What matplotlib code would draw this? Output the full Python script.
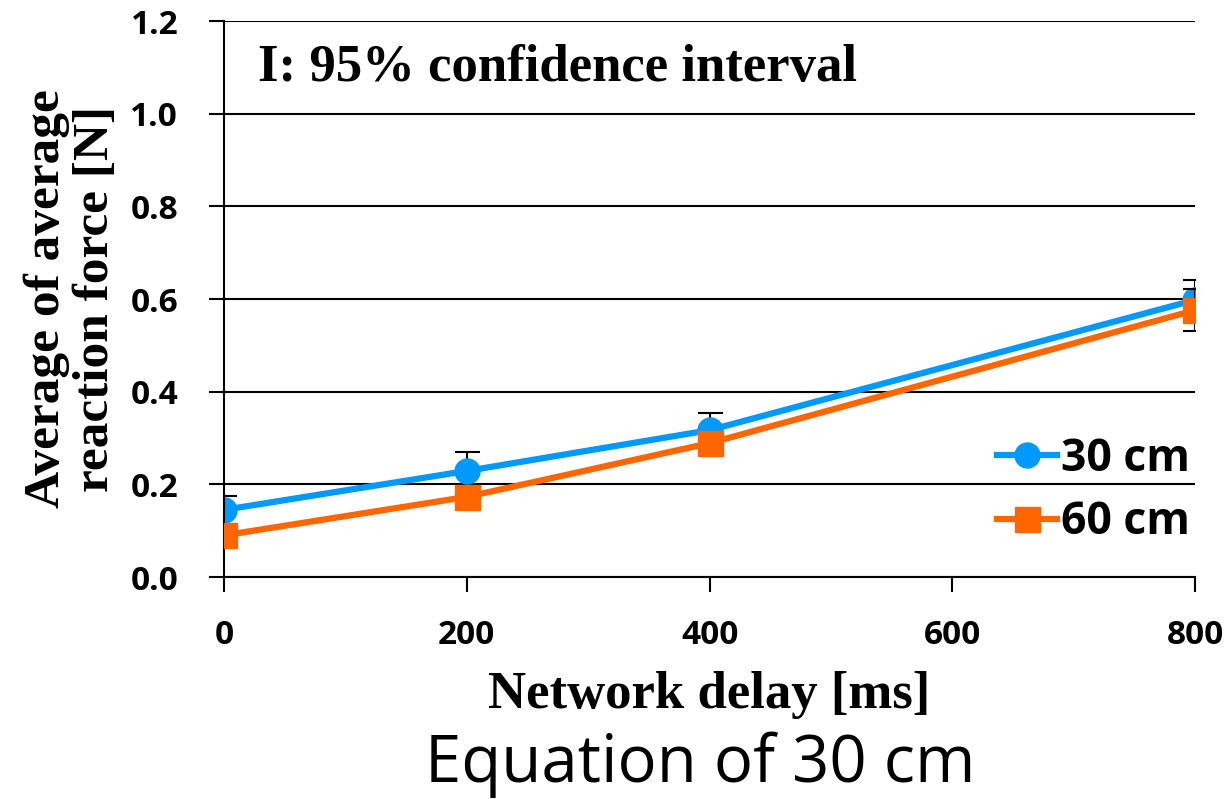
import matplotlib
matplotlib.use("Agg")
import matplotlib.pyplot as plt
from matplotlib.lines import Line2D

delays = [0, 200, 400, 800]
force_30 = [0.145, 0.229, 0.317, 0.598]
err_30 = [0.03, 0.04, 0.037, 0.043]
force_60 = [0.09, 0.173, 0.289, 0.576]
err_60 = [0.02, 0.02, 0.02, 0.045]
labels = ["30 cm", "60 cm"]
x_ticks = [0, 200, 400, 600, 800]
y_ticks = [0.0, 0.2, 0.4, 0.6, 0.8, 1.0, 1.2]

blue = "#0099FF"
orange = "#FF6600"

fig = plt.figure(figsize=(12.27, 7.99), dpi=100)
ax = fig.add_axes([0.1826, 0.2778, 0.7914, 0.6959])

ax.errorbar(delays, force_60, yerr=err_60, color=orange, ecolor="black", elinewidth=1.5,
            capsize=9, capthick=1.5, lw=4.5, marker="s", ms=18, zorder=3, label=labels[1])
ax.errorbar(delays, force_30, yerr=err_30, color=blue, ecolor="black", elinewidth=1.5,
            capsize=9, capthick=1.5, lw=4.5, marker="o", ms=18, zorder=2, label=labels[0])

ax.set_xlim(0, 800)
ax.set_ylim(0, 1.2)
ax.set_xticks(x_ticks)
ax.set_yticks(y_ticks)
ax.set_yticklabels([f"{v:.1f}" for v in y_ticks])
ax.grid(axis="y", color="black", lw=1.5)
ax.set_axisbelow(True)
for s in ["top", "right"]:
    ax.spines[s].set_visible(False)
ax.spines["left"].set_linewidth(1.5)
ax.spines["bottom"].set_linewidth(1.5)
ax.tick_params(axis="both", length=11, width=1.5, direction="out", labelsize=24)
ax.tick_params(axis="x", pad=19)
ax.tick_params(axis="y", pad=22)
for lab in ax.get_xticklabels() + ax.get_yticklabels():
    lab.set_fontweight("bold")
    lab.set_fontfamily("Open Sans")

ax.set_xlabel("Network delay [ms]", fontfamily="Liberation Serif", fontweight="bold",
              fontsize=38, labelpad=14)
ax.set_ylabel("Average of average\nreaction force [N]", fontfamily="Liberation Serif",
              fontweight="bold", fontsize=37, labelpad=8, linespacing=1.1)

ax.text(0.035, 0.915, "I: 95% confidence interval", transform=ax.transAxes,
        fontfamily="Liberation Serif", fontweight="bold", fontsize=38, va="center")

handles = [Line2D([], [], color=blue, marker="o", ms=18, lw=4.5),
           Line2D([], [], color=orange, marker="s", ms=18, lw=4.5)]
leg = ax.legend(handles, labels, loc="lower right", bbox_to_anchor=(1.036, -0.015),
                frameon=False, handlelength=1.35, handletextpad=0.1, labelspacing=0.42,
                prop={"family": "Open Sans", "weight": "bold", "size": 32})

fig.text(0.571, 0.021, "Equation of 30 cm", ha="center", va="baseline",
         fontfamily="Open Sans", fontsize=47)

fig.savefig("out.png", dpi=100)
